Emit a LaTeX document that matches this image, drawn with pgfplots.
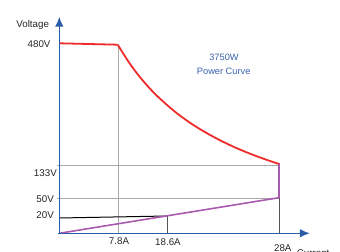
\documentclass[border=0pt]{standalone}
\usepackage{pgfplots}
\pgfplotsset{compat=1.18}
\usepackage{fontspec}
\setmainfont{Liberation Sans}
\usetikzlibrary{arrows.meta}
\definecolor{axblue}{HTML}{2A5CAA}
\definecolor{txtblue}{HTML}{3A62AE}
\definecolor{cred}{HTML}{EE2A2A}
\definecolor{cpurple}{HTML}{A85AAE}
\definecolor{cgray}{HTML}{AAAAAA}
\definecolor{cdark}{HTML}{555555}
\begin{document}
\begin{tikzpicture}
\begin{axis}[
  hide axis, clip=false,
  x=1bp, y=1bp,
  xmin=0, xmax=250.7, ymin=0, ymax=216.6,
]
% reference lines
\addplot[cgray, line width=0.7pt] coordinates {(59,0) (59,188.6)};
\addplot[cdark, line width=0.7pt] coordinates {(107.7,0) (107.7,17.3)};
\addplot[cdark, line width=0.7pt] coordinates {(219.7,0) (219.7,35.6)};
\addplot[cgray, line width=0.7pt] coordinates {(-2,68.3) (219.7,68.3)};
\addplot[cgray, line width=0.7pt] coordinates {(-2,35) (219.7,35)};
% black line
\addplot[black, line width=1pt] coordinates {(0,15.3) (107.7,17.3)};
% purple
\addplot[cpurple, line width=1.6pt] coordinates {(0,0) (219.7,35.6)};
\addplot[cpurple, line width=1.6pt] coordinates {(219.7,35.6) (219.7,70.5)};
% red power curve
\addplot[cred, line width=1.8pt] coordinates {(0,190) (58.4,188.6)};
\addplot[cred, line width=1.8pt, smooth] coordinates {
 (58.4,188.6) (70,170.4) (80,157.0) (90,145.4) (100,135.3) (115,122.1)
 (130,111.0) (145,101.6) (160,93.4) (175,86.2) (190,79.9) (205,74.3) (219.7,69.3)};
% axes
\draw[axblue, line width=1.6pt, -{Latex[length=10bp,width=8.5bp]}] (axis cs:0,-0.8) -- (axis cs:0,216.6);
\draw[axblue, line width=1.6pt, -{Latex[length=10bp,width=8.5bp]}] (axis cs:-0.8,0) -- (axis cs:250.7,0);
% labels
\begin{scope}[font=\fontsize{9.8}{11}\selectfont, text=black!85]
\node at (axis cs:-26.6,208.3) {Voltage};
\node[anchor=east, inner sep=0pt] at (axis cs:-8.6,189) {480V};
\node[anchor=east, inner sep=0pt] at (axis cs:-2.3,60.3) {133V};
\node[anchor=east, inner sep=0pt] at (axis cs:-5.3,33.8) {50V};
\node[anchor=east, inner sep=0pt] at (axis cs:-5.3,18.3) {20V};
\node[inner sep=0pt] at (axis cs:59.7,-7.4) {7.8A};
\node[inner sep=0pt] at (axis cs:108.7,-9) {18.6A};
\node[inner sep=0pt] at (axis cs:223.5,-14.4) {28A};
\node[anchor=west, inner sep=0pt] at (axis cs:237.4,-19.5) {Current};
\end{scope}
\begin{scope}[font=\fontsize{9.3}{11}\selectfont, text=txtblue]
\node[inner sep=0pt] at (axis cs:164.7,176) {3750W};
\node[inner sep=0pt] at (axis cs:164.4,162) {Power Curve};
\end{scope}
\coordinate (bl) at (axis cs:-59.3,-18.7);
\coordinate (tr) at (axis cs:280.7,233.3);
\end{axis}
\pgfresetboundingbox
\useasboundingbox (bl) rectangle (tr);
\end{tikzpicture}
\end{document}
